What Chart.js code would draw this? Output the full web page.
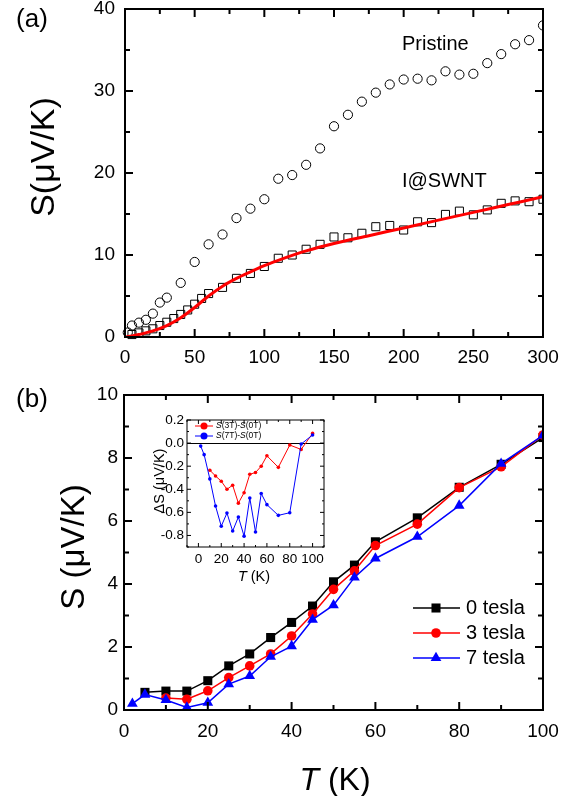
<!DOCTYPE html>
<html>
<head>
<meta charset="utf-8">
<script src="https://cdn.jsdelivr.net/npm/chart.js@4.4.1/dist/chart.umd.min.js"></script>
<style>
  html, body { margin: 0; padding: 0; background: #fff; }
  #wrap { position: relative; width: 574px; height: 796px; overflow: hidden; }
  #wrap canvas { position: absolute; left: 0; top: 0; }
</style>
</head>
<body>
<div id="wrap">
  <canvas id="chartA" width="574" height="796"></canvas>
  <canvas id="chartB" width="574" height="796"></canvas>
  <canvas id="chartInset" width="574" height="796"></canvas>
</div>
<script>
const FONT = '"Liberation Sans", Arial, sans-serif';

// --- (a) thermopower vs temperature ---
const pristineT = [2, 5, 10, 15, 20, 25, 30, 40, 50, 60, 70, 80, 90, 100, 110, 120, 130, 140, 150, 160, 170, 180, 190, 200, 210, 220, 230, 240, 250, 260, 270, 280, 290, 300];
const pristineS = [0.55, 1.4, 1.75, 2.1, 2.85, 4.2, 4.8, 6.6, 9.15, 11.3, 12.5, 14.5, 15.65, 16.8, 19.3, 19.75, 21.0, 23.0, 25.7, 27.1, 28.7, 29.8, 30.8, 31.4, 31.5, 31.3, 32.4, 32.0, 32.1, 33.4, 34.5, 35.7, 36.2, 38.0];
const swntT = [5, 10, 15, 20, 25, 30, 35, 40, 45, 50, 55, 60, 70, 80, 90, 100, 110, 120, 130, 140, 150, 160, 170, 180, 190, 200, 210, 220, 230, 240, 250, 260, 270, 280, 290, 300];
const swntS = [0.3, 0.5, 0.75, 1.0, 1.4, 1.8, 2.25, 2.75, 3.3, 4.0, 4.7, 5.3, 6.05, 7.15, 7.75, 8.6, 9.6, 10.0, 10.7, 11.3, 12.2, 12.1, 12.65, 13.45, 13.6, 13.05, 14.05, 13.95, 14.95, 15.35, 14.9, 15.5, 16.3, 16.6, 16.5, 16.8];
const fitT = [0, 5, 10, 20, 30, 40, 50, 60, 70, 80, 90, 100, 110, 120, 130, 150, 175, 200, 225, 250, 275, 300];
const fitS = [0, 0.12, 0.3, 0.75, 1.4, 2.35, 3.6, 5.0, 6.2, 7.15, 7.95, 8.7, 9.35, 9.95, 10.5, 11.4, 12.35, 13.3, 14.25, 15.2, 16.15, 17.1];
const ticksAx = [0, 50, 100, 150, 200, 250, 300];
const ticksAy = [0, 10, 20, 30, 40];

// --- (b) field dependence, low T ---
const fieldT = [2, 5, 10, 15, 20, 25, 30, 35, 40, 45, 50, 55, 60, 70, 80, 90, 100];
const s0T = [null, 0.56, 0.6, 0.6, 0.93, 1.4, 1.78, 2.3, 2.78, 3.3, 4.07, 4.6, 5.34, 6.1, 7.07, 7.8, 8.65];
const s3T = [null, null, 0.38, 0.34, 0.61, 1.03, 1.4, 1.78, 2.35, 3.05, 3.83, 4.42, 5.22, 5.9, 7.06, 7.72, 8.73];
const s7T = [0.2, 0.49, 0.32, 0.08, 0.23, 0.82, 1.08, 1.69, 2.03, 2.87, 3.33, 4.21, 4.81, 5.5, 6.49, 7.82, 8.72];
const fieldNames = ['0 tesla', '3 tesla', '7 tesla'];
const ticksBx = [0, 20, 40, 60, 80, 100];
const ticksBy = [0, 2, 4, 6, 8, 10];

// --- inset: differences ---
const dT3 = [10, 15, 20, 25, 30, 35, 40, 45, 50, 55, 60, 70, 80, 90, 100];
const dS3 = [-0.235, -0.285, -0.33, -0.40, -0.365, -0.52, -0.43, -0.27, -0.255, -0.2, -0.11, -0.21, -0.017, -0.055, 0.084];
const dT7 = [2, 5, 10, 15, 20, 25, 30, 35, 40, 45, 50, 55, 60, 70, 80, 90, 100];
const dS7 = [-0.026, -0.1, -0.31, -0.545, -0.72, -0.606, -0.762, -0.64, -0.806, -0.475, -0.77, -0.437, -0.533, -0.626, -0.603, -0.008, 0.07];
const ticksIx = [0, 20, 40, 60, 80, 100];
const ticksIy = [-0.8, -0.6, -0.4, -0.2, 0, 0.2];

const pts = (xs, ys) => xs.map((x, i) => ({x: x, y: ys[i]})).filter(p => p.y !== null);

// draw a run of text pieces, [text, italic], starting at x (or centred on it)
function richText(ctx, parts, x, y, size, center) {
  ctx.save();
  ctx.fillStyle = '#000';
  ctx.textBaseline = 'middle';
  ctx.textAlign = 'left';
  const widths = parts.map(([t, it]) => {
    ctx.font = (it ? 'italic ' : '') + size + 'px ' + FONT;
    return ctx.measureText(t).width;
  });
  let cx = center ? x - widths.reduce((a, b) => a + b, 0) / 2 : x;
  parts.forEach(([t, it], i) => {
    ctx.font = (it ? 'italic ' : '') + size + 'px ' + FONT;
    ctx.fillText(t, cx, y);
    cx += widths[i];
  });
  ctx.restore();
}
function richTextUp(ctx, parts, x, y, size) {
  ctx.save();
  ctx.translate(x, y);
  ctx.rotate(-Math.PI / 2);
  richText(ctx, parts, 0, 0, size, true);
  ctx.restore();
}

// marker for hand-drawn legends
function marker(ctx, style, x, y, r, color) {
  ctx.save();
  ctx.fillStyle = color;
  ctx.beginPath();
  if (style === 'rect') {
    const h = r * Math.SQRT1_2;
    ctx.rect(x - h, y - h, 2 * h, 2 * h);
  } else if (style === 'triangle') {
    for (let k = 0; k < 3; k++) {
      const a = k * 2 * Math.PI / 3;
      ctx[k ? 'lineTo' : 'moveTo'](x + Math.sin(a) * r, y - Math.cos(a) * r);
    }
    ctx.closePath();
  } else {
    ctx.arc(x, y, r, 0, 2 * Math.PI);
  }
  ctx.fill();
  ctx.restore();
}

// box frame with inward major/minor ticks on all four sides
function frameTicks(o) {
  return {
    id: 'frameTicks',
    afterDatasetsDraw(chart) {
      const {ctx, chartArea: a} = chart;
      const sx = chart.scales.x, sy = chart.scales.y;
      const isMajor = (v, step) => Math.abs(v / step - Math.round(v / step)) < 1e-6;
      ctx.save();
      ctx.strokeStyle = '#000';
      ctx.lineWidth = o.width;
      ctx.beginPath();
      for (let v = Math.ceil(sx.min / o.xMinor - 1e-9) * o.xMinor; v <= sx.max + 1e-9; v += o.xMinor) {
        const p = sx.getPixelForValue(v);
        const len = isMajor(v, o.xMajor) ? o.major : o.minor;
        ctx.moveTo(p, a.bottom); ctx.lineTo(p, a.bottom - len);
        ctx.moveTo(p, a.top); ctx.lineTo(p, a.top + len);
      }
      for (let v = Math.ceil(sy.min / o.yMinor - 1e-9) * o.yMinor; v <= sy.max + 1e-9; v += o.yMinor) {
        const p = sy.getPixelForValue(v);
        const len = isMajor(v, o.yMajor) ? o.major : o.minor;
        ctx.moveTo(a.left, p); ctx.lineTo(a.left + len, p);
        ctx.moveTo(a.right, p); ctx.lineTo(a.right - len, p);
      }
      ctx.stroke();
      ctx.strokeRect(a.left, a.top, a.right - a.left, a.bottom - a.top);
      ctx.restore();
    }
  };
}

// shared axis setup: fixed box sizes so the plot areas line up
function axisX(min, max, ticks, height, pad, size) {
  return {
    type: 'linear', min: min, max: max,
    afterBuildTicks: s => { s.ticks = ticks.map(v => ({value: v})); },
    afterFit: s => { s.height = height; s.paddingLeft = 0; s.paddingRight = 0; },
    grid: {display: false, drawTicks: false},
    border: {display: false},
    ticks: {padding: pad, color: '#000', maxRotation: 0, font: {family: FONT, size: size}}
  };
}
function axisY(min, max, ticks, width, pad, size, fmt) {
  return {
    type: 'linear', min: min, max: max,
    afterBuildTicks: s => { s.ticks = ticks.map(v => ({value: v})); },
    afterFit: s => { s.width = width; s.paddingTop = 0; s.paddingBottom = 0; },
    grid: {display: false, drawTicks: false},
    border: {display: false},
    ticks: {padding: pad, color: '#000', font: {family: FONT, size: size}, callback: fmt || (v => v)}
  };
}

const baseOptions = {
  responsive: false,
  animation: false,
  events: [],
  plugins: {legend: {display: false}, tooltip: {enabled: false}}
};

// --- Chart (a) ---
new Chart(document.getElementById('chartA'), {
  type: 'scatter',
  data: {
    datasets: [
      {label: 'fit', data: pts(fitT, fitS), showLine: true, borderColor: '#ff0000', borderWidth: 3,
       pointRadius: 0, cubicInterpolationMode: 'monotone', order: 0},
      {label: 'Pristine', data: pts(pristineT, pristineS), pointStyle: 'circle', pointRadius: 4.6,
       borderColor: '#000', borderWidth: 1, backgroundColor: 'rgba(0,0,0,0)', order: 2,
       clip: {left: 6, top: 0, right: 0, bottom: 6}},
      {label: 'I@SWNT', data: pts(swntT, swntS), pointStyle: 'rect', pointRadius: 5.7,
       borderColor: '#000', borderWidth: 1, backgroundColor: 'rgba(0,0,0,0)', order: 1,
       clip: {left: 6, top: 0, right: 0, bottom: 6}}
    ]
  },
  options: Object.assign({}, baseOptions, {
    layout: {padding: {left: 0, top: 9, right: 31, bottom: 416}},
    scales: {
      x: axisX(0, 300, ticksAx, 43, 9, 19),
      y: axisY(0, 40, ticksAy, 125, 10, 19)
    }
  }),
  plugins: [
    frameTicks({width: 2, xMajor: 50, xMinor: 25, yMajor: 10, yMinor: 5, major: 8, minor: 5}),
    {
      id: 'labelsA',
      afterDraw(chart) {
        const ctx = chart.ctx;
        richText(ctx, [['(a)', false]], 32, 20, 26, true);
        richTextUp(ctx, [['S(\u03bcV/K)', false]], 45, 157, 34);
        richText(ctx, [['Pristine', false]], 402, 44, 20, false);
        richText(ctx, [['I@SWNT', false]], 402, 181, 20, false);
      }
    }
  ]
});

// --- Chart (b) ---
const fieldStyles = [
  {color: '#000000', style: 'rect', r: 6.4},
  {color: '#ff0000', style: 'circle', r: 4.8},
  {color: '#0000ff', style: 'triangle', r: 6.2}
];
const fieldSeries = [s0T, s3T, s7T];

new Chart(document.getElementById('chartB'), {
  type: 'scatter',
  data: {
    datasets: fieldSeries.map((s, i) => ({
      label: fieldNames[i], data: pts(fieldT, s), showLine: true,
      borderColor: fieldStyles[i].color, backgroundColor: fieldStyles[i].color, borderWidth: 1.5,
      pointStyle: fieldStyles[i].style, pointRadius: fieldStyles[i].r, pointBorderWidth: 0,
      order: 2 - i
    }))
  },
  options: Object.assign({}, baseOptions, {
    layout: {padding: {left: 0, top: 395, right: 31, bottom: 0}},
    scales: {
      x: axisX(0, 100, ticksBx, 86, 10, 19),
      y: axisY(0, 10, ticksBy, 124, 6, 19)
    }
  }),
  plugins: [
    frameTicks({width: 2, xMajor: 20, xMinor: 10, yMajor: 2, yMinor: 1, major: 8, minor: 5}),
    {
      id: 'labelsB',
      afterDraw(chart) {
        const ctx = chart.ctx;
        richText(ctx, [['(b)', false]], 32, 400, 26, true);
        richTextUp(ctx, [['S (\u03bcV/K)', false]], 75, 547, 33);
        richText(ctx, [['T', true], [' (K)', false]], 335, 781, 32, true);
        // legend
        fieldNames.forEach((name, i) => {
          const y = 608 + i * 25;
          const st = fieldStyles[i];
          ctx.save();
          ctx.strokeStyle = st.color;
          ctx.lineWidth = 1.5;
          ctx.beginPath();
          ctx.moveTo(413, y); ctx.lineTo(460, y);
          ctx.stroke();
          ctx.restore();
          marker(ctx, st.style, 436, y, st.r, st.color);
          richText(ctx, [[name, false]], 466, y, 20, false);
        });
      }
    }
  ]
});

// --- Inset ---
const insetColors = ['#ff0000', '#0000ff'];
new Chart(document.getElementById('chartInset'), {
  type: 'scatter',
  data: {
    datasets: [
      {label: 'S(3T)-S(0T)', data: pts(dT3, dS3), showLine: true, borderColor: insetColors[0],
       backgroundColor: insetColors[0], borderWidth: 1, pointRadius: 1.8, pointBorderWidth: 0, order: 1},
      {label: 'S(7T)-S(0T)', data: pts(dT7, dS7), showLine: true, borderColor: insetColors[1],
       backgroundColor: insetColors[1], borderWidth: 1, pointRadius: 1.8, pointBorderWidth: 0, order: 0}
    ]
  },
  options: Object.assign({}, baseOptions, {
    layout: {padding: {left: 150, top: 420, right: 250, bottom: 201}},
    scales: {
      x: axisX(-10, 110, ticksIx, 48, 4, 13.5),
      y: axisY(-0.9, 0.2, ticksIy, 37, 3, 13.5, v => v.toFixed(1))
    }
  }),
  plugins: [
    {
      id: 'insetZero',
      beforeDatasetsDraw(chart) {
        const {ctx, chartArea: a, scales: {y}} = chart;
        ctx.save();
        ctx.strokeStyle = '#000';
        ctx.lineWidth = 1;
        ctx.beginPath();
        const p = Math.round(y.getPixelForValue(0)) + 0.5;
        ctx.moveTo(a.left, p); ctx.lineTo(a.right, p);
        ctx.stroke();
        ctx.restore();
      }
    },
    frameTicks({width: 1, xMajor: 20, xMinor: 10, yMajor: 0.2, yMinor: 0.1, major: 4, minor: 2}),
    {
      id: 'labelsInset',
      afterDraw(chart) {
        const ctx = chart.ctx;
        richTextUp(ctx, [['\u0394S (\u03bcV/K)', false]], 160, 481, 14.5);
        richText(ctx, [['T', true], [' (K)', false]], 254, 577, 14.5, true);
        [['3T', 426], ['7T', 436]].forEach(([b, y], i) => {
          ctx.save();
          ctx.strokeStyle = insetColors[i];
          ctx.lineWidth = 1;
          ctx.beginPath();
          ctx.moveTo(195, y); ctx.lineTo(213, y);
          ctx.stroke();
          ctx.restore();
          marker(ctx, 'circle', 204, y, 3.5, insetColors[i]);
          richText(ctx, [['S', true], ['(' + b + ')-', false], ['S', true], ['(0T)', false]], 216, y, 8.5, false);
        });
      }
    }
  ]
});
</script>
</body>
</html>
